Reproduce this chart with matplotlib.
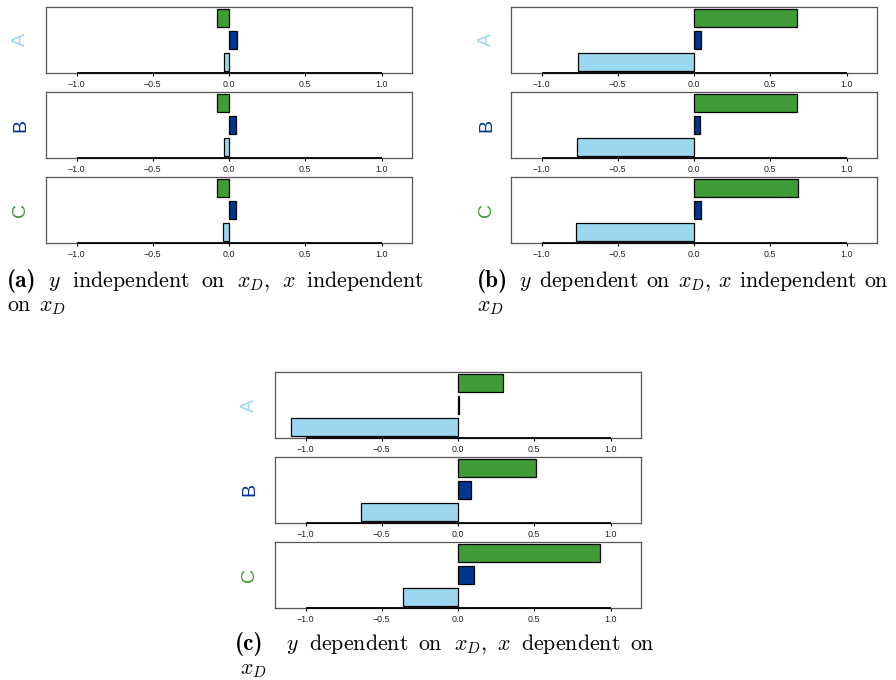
import os
import matplotlib
matplotlib.use("Agg")
import matplotlib.pyplot as plt
from matplotlib.font_manager import FontProperties

plt.rcParams["mathtext.fontset"] = "cm"
plt.rcParams["font.family"] = ["Liberation Sans", "DejaVu Sans"]

# Contribution values per scenario, for groups A, B, C.
# Each group holds three bars: green (top), dark blue (middle), light blue (bottom).
groups = ["A", "B", "C"]
series_colors = ["#3f9b35", "#003591", "#9bd7ef"]
group_colors = ["#9bd7ef", "#003591", "#3f9b35"]

values_a = {
    "A": [-0.08, 0.05, -0.03],
    "B": [-0.08, 0.045, -0.03],
    "C": [-0.077, 0.045, -0.04],
}
values_b = {
    "A": [0.675, 0.048, -0.758],
    "B": [0.675, 0.040, -0.765],
    "C": [0.680, 0.045, -0.773],
}
values_c = {
    "A": [0.297, 0.005, -1.096],
    "B": [0.511, 0.085, -0.633],
    "C": [0.930, 0.105, -0.358],
}

tick_values = [-1.0, -0.5, 0.0, 0.5, 1.0]
tick_labels = ["\u22121.0", "\u22120.5", "0.0", "0.5", "1.0"]

# Sub-figure captions: bold label, then the words of each line
caption_a = ("(a)",
             [r"$y$", r"$\mathrm{independent}$", r"$\mathrm{on}$", r"$x_D,$",
              r"$x$", r"$\mathrm{independent}$"],
             [r"$\mathrm{on}$", r"$x_D$"])
caption_b = ("(b)",
             [r"$y$", r"$\mathrm{dependent}$", r"$\mathrm{on}$", r"$x_D,$",
              r"$x$", r"$\mathrm{independent}$", r"$\mathrm{on}$"],
             [r"$x_D$"])
caption_c = ("(c)",
             [r"$y$", r"$\mathrm{dependent}$", r"$\mathrm{on}$", r"$x_D,$",
              r"$x$", r"$\mathrm{dependent}$", r"$\mathrm{on}$"],
             [r"$x_D$"])

BODY_FS = 15.8
LABEL_FS = 16.8

W, H = 896, 680
fig = plt.figure(figsize=(W / 100, H / 100), dpi=100)
renderer = fig.canvas.get_renderer()


def panel(values, left_px, tops_px, label_x_px, width_px=366, height_px=66):
    bar_pos = [2.4, 1.2, 0.0]
    for g, top, gc in zip(groups, tops_px, group_colors):
        ax = fig.add_axes([left_px / W, 1 - (top + height_px) / H,
                           width_px / W, height_px / H])
        ax.barh(bar_pos, values[g], height=1.0, color=series_colors,
                edgecolor="black", linewidth=0.9, zorder=3)
        ax.set_xlim(-1.2, 1.2)
        ax.set_ylim(-0.6, 3.0)
        ax.set_yticks([])
        ax.set_xticks(tick_values)
        ax.set_xticklabels(tick_labels, fontsize=6.4, color="#222222")
        ax.tick_params(axis="x", length=2.5, width=0.8, pad=2.5, color="black")
        for s in ax.spines.values():
            s.set_color("#555555")
            s.set_linewidth(0.9)
        ax.plot([-1.0, 1.0], [-0.6, -0.6], color="black", lw=1.3,
                clip_on=False, zorder=4, solid_capstyle="butt")
        fig.text(label_x_px / W, 1 - (top + height_px / 2) / H, g,
                 rotation=90, color=gc, fontsize=14, ha="center", va="center")


panel(values_a, 46, [7, 92, 177], label_x_px=20.5)
panel(values_b, 511, [7, 92, 177], label_x_px=486.5)
panel(values_c, 275, [372, 457, 542], label_x_px=249.5)

bold_path = os.path.join(matplotlib.get_data_path(), "fonts", "ttf", "cmb10.ttf")
bold_fp = FontProperties(fname=bold_path, size=LABEL_FS) if os.path.exists(bold_path) else None


def place_words(words, x0, x1, base_y):
    items = [fig.text(0, 1 - base_y / H, w, fontsize=BODY_FS,
                      ha="left", va="baseline") for w in words]
    widths = [t.get_window_extent(renderer).width for t in items]
    if x1 is None or len(items) == 1:
        gap = 0.33 * BODY_FS * 100 / 72
    else:
        gap = (x1 - x0 - sum(widths)) / (len(items) - 1)
    x = x0
    for t, w in zip(items, widths):
        t.set_x(x / W)
        x += w + gap


def caption(cap, label_x, words_x, line_end, base1, line2_x, base2):
    label, line1, line2 = cap
    if bold_fp is not None:
        fig.text(label_x / W, 1 - base1 / H, label, fontproperties=bold_fp,
                 ha="left", va="baseline")
    else:
        fig.text(label_x / W, 1 - base1 / H, label, fontsize=LABEL_FS,
                 fontweight="bold", family="DejaVu Serif", ha="left", va="baseline")
    place_words(line1, words_x, line_end, base1)
    place_words(line2, line2_x, None, base2)


caption(caption_a, 7, 48, 424, 287, 7, 311)
caption(caption_b, 477, 519, 889, 287, 477, 311)
caption(caption_c, 235, 286, 655, 650, 240, 674)

fig.savefig("out.png", dpi=100)
